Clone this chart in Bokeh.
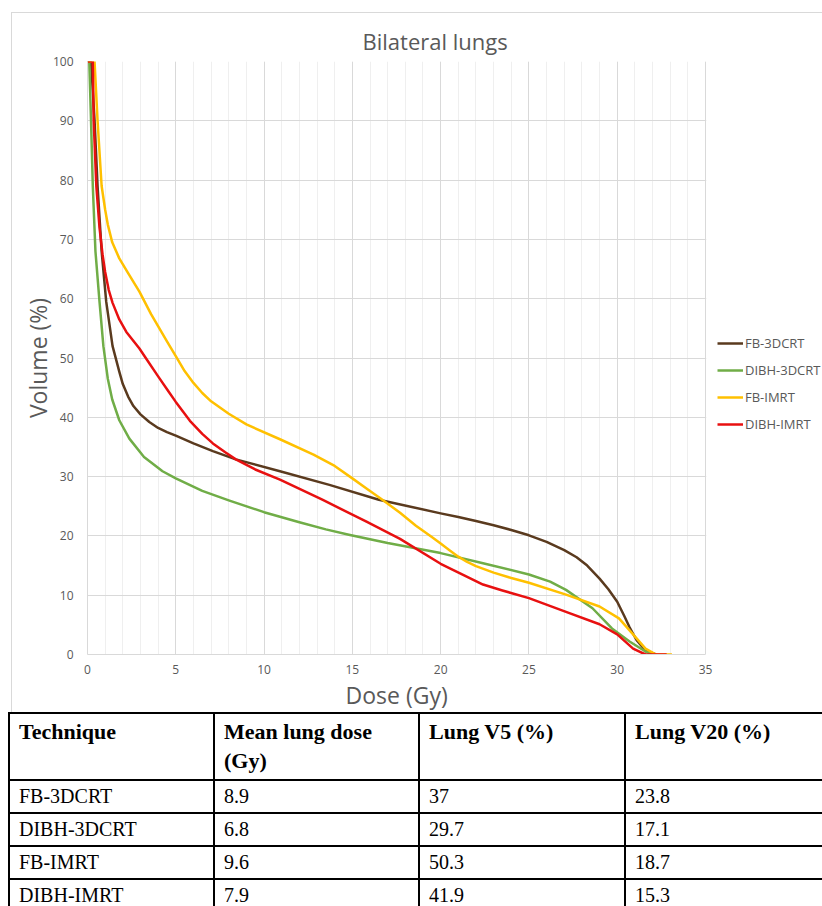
from bokeh.plotting import figure
from bokeh.models import (Range1d, SingleIntervalTicker, Legend, LegendItem, Div, Title, BoxAnnotation)
from bokeh.layouts import column
from bokeh.embed import file_html
from bokeh.resources import INLINE

# ---- DVH data (dose in Gy, volume in %) ----
fb3d_dose = [0, 0.2, 0.4, 0.57, 0.8, 1.06, 1.42, 1.8, 2.0, 2.3, 2.6, 3.0, 3.5, 4.0, 4.5, 5, 6, 7.1, 8.4, 10.9, 13.7, 16.5,
             20, 21, 22, 23, 24, 25, 26, 27, 27.7, 28.3, 29, 29.5, 30, 30.4, 30.7, 31.1, 31.6, 32.2]
fb3d_vol = [100, 100, 90, 79, 68, 59.5, 52, 47.7, 45.6, 43.5, 41.9, 40.5, 39.2, 38.2, 37.5, 36.9, 35.6, 34.3, 32.9, 30.9, 28.6, 26.1,
            23.8, 23.2, 22.5, 21.8, 21.0, 20.1, 19.0, 17.6, 16.4, 15.0, 12.8, 11.0, 8.9, 6.5, 4.6, 2.4, 0.7, 0]

dibh3d_dose = [0, 0.1, 0.2, 0.3, 0.45, 0.68, 0.9, 1.15, 1.4, 1.8, 2.37, 3.2, 4.25, 5, 6.5, 8, 10, 12, 13.5, 14.8, 17, 20,
               22.4, 25, 26.2, 27.1, 28.6, 29.7, 30.7, 31.6, 32]
dibh3d_vol = [100, 100, 90, 79, 68, 59.5, 52, 46.5, 43, 39.5, 36.4, 33.3, 30.9, 29.7, 27.6, 26, 24, 22.3, 21.1, 20.2, 18.8, 17.1,
              15.4, 13.5, 12.3, 10.9, 7.8, 4.4, 2.2, 0.5, 0]

fbim_dose = [0, 0.4, 0.57, 0.8, 1.0, 1.15, 1.4, 1.8, 2.3, 2.94, 3.6, 4.5, 5, 5.5, 6, 6.5, 7, 8, 9, 10.9, 12.8, 14, 15, 15.8,
             16.7, 17.7, 18.6, 19.5, 20, 20.5, 21, 21.5, 22, 23, 24, 25, 27.1, 29, 30.1, 30.9, 31.6, 32.2, 33.1]
fbim_vol = [100, 100, 90, 79, 75, 72.5, 69.5, 66.8, 64.3, 61.2, 57.4, 52.8, 50.3, 47.8, 45.8, 44.1, 42.7, 40.6, 38.8, 36.3, 33.7, 31.8, 29.7, 28,
            26.1, 23.9, 21.7, 19.8, 18.7, 17.6, 16.5, 15.6, 14.9, 13.8, 12.9, 12.1, 10.1, 8.1, 6.1, 3.4, 1, 0, 0]

dibhim_dose = [0, 0.3, 0.35, 0.5, 0.68, 0.85, 1.0, 1.2, 1.42, 1.8, 2.2, 2.94, 3.3, 4.0, 4.6, 5, 5.8, 6.5, 7.1, 7.8, 8.4, 9.5,
               10.9, 13.3, 15.8, 17.7, 20, 21.1, 22.4, 23.5, 25, 27.1, 29, 30, 30.9, 31.6, 32.8]
dibhim_vol = [100, 100, 90, 79, 72, 67.5, 64.5, 61.5, 59.3, 56.5, 54.4, 51.6, 50, 46.9, 44.3, 42.6, 39.4, 37.2, 35.6, 34.1, 32.9, 31.2,
              29.5, 26.1, 22.4, 19.5, 15.3, 13.7, 11.8, 10.8, 9.5, 7.2, 5.1, 3.4, 1, 0, 0]

series_names = ["FB-3DCRT", "DIBH-3DCRT", "FB-IMRT", "DIBH-IMRT"]
series_colors = ["#5a3a1e", "#70ad47", "#ffc000", "#e81010"]

# ---- axis limits ----
dose_min, dose_max = 0, 35
vol_min, vol_max = 0, 100

# ---- table data ----
table_header = ["Technique", "Mean lung dose (Gy)", "Lung V5 (%)", "Lung V20 (%)"]
techniques = ["FB-3DCRT", "DIBH-3DCRT", "FB-IMRT", "DIBH-IMRT"]
mean_lung_dose = ["8.9", "6.8", "9.6", "7.9"]
lung_v5 = ["37", "29.7", "50.3", "41.9"]
lung_v20 = ["23.8", "17.1", "18.7", "15.3"]

FONT = "Open Sans"
GREY = "#595959"

# frame extends past dose_max (to the right edge) so the legend can sit beside the plot area
FRAME_EXTRA = 736.0 / 618.0
p = figure(width=811, height=700, output_backend="svg", toolbar_location=None,
           x_range=Range1d(dose_min, dose_max * FRAME_EXTRA), y_range=Range1d(vol_min, vol_max),
           min_border_left=75, min_border_right=0, min_border_top=48, min_border_bottom=59)
p.margin = (12, 0, 0, 11)
p.styles = {"border-left": "1px solid #d9d9d9", "border-top": "1px solid #d9d9d9"}
p.outline_line_color = None
p.background_fill_color = "white"
p.border_fill_color = "white"

t = Title(text="Bilateral lungs", align="left", offset=275, text_font=FONT,
          text_font_size="22px", text_font_style="normal", text_color=GREY, standoff=12)
p.add_layout(t, "above")

xt = Title(text="Dose (Gy)", align="left", offset=258, text_font=FONT,
           text_font_size="23px", text_font_style="normal", text_color=GREY, standoff=0)
p.add_layout(xt, "below")

p.xaxis.ticker = SingleIntervalTicker(interval=5, num_minor_ticks=5)
p.yaxis.ticker = SingleIntervalTicker(interval=10, num_minor_ticks=0)
p.xaxis.bounds = (dose_min, dose_max)
for ax in (p.xaxis[0], p.yaxis[0]):
    ax.axis_line_color = "#d9d9d9"
    ax.major_tick_line_color = None
    ax.minor_tick_line_color = None
    ax.major_label_text_font = FONT
    ax.major_label_text_font_size = "12px"
    ax.major_label_text_color = GREY
    ax.axis_label_text_font = FONT
    ax.axis_label_text_font_size = "23px"
    ax.axis_label_text_font_style = "normal"
    ax.axis_label_text_color = GREY
p.yaxis.axis_label = "Volume (%)"
p.xaxis.major_label_standoff = 4
p.yaxis.major_label_standoff = 8
p.yaxis.axis_label_standoff = -4

p.xgrid.grid_line_color = "#d9d9d9"
p.xgrid.minor_grid_line_color = "#efefef"
p.xgrid.bounds = (dose_min, dose_max)
p.ygrid.grid_line_color = "#d9d9d9"

# white mask hiding horizontal grid lines to the right of the plot area
mask = BoxAnnotation(left=dose_max + 0.04, fill_color="white", fill_alpha=1.0,
                     line_alpha=0, level="underlay")
p.add_layout(mask)

data = [(fb3d_dose, fb3d_vol), (dibh3d_dose, dibh3d_vol), (fbim_dose, fbim_vol), (dibhim_dose, dibhim_vol)]
items = []
for (xs, ys), name, col in zip(data, series_names, series_colors):
    r = p.line(xs, ys, line_color=col, line_width=2.5, line_join="round")
    items.append(LegendItem(label=name, renderers=[r]))

legend = Legend(items=items, location=(630, 220), border_line_color=None,
                background_fill_alpha=0, padding=0, margin=0, spacing=7,
                label_height=20, glyph_height=20, glyph_width=26, label_standoff=2,
                label_text_font=FONT, label_text_font_size="13px", label_text_color=GREY)
p.add_layout(legend, "center")

# ---- table ----
cell = "border:2px solid #000; padding:4px 9px; text-align:left;"
rows_html = ""
for tech, mld, v5, v20 in zip(techniques, mean_lung_dose, lung_v5, lung_v20):
    rows_html += "<tr style='height:33px'>" + "".join(
        f"<td style='{cell} vertical-align:middle; padding-top:1px; padding-bottom:1px'>{v}</td>"
        for v in (tech, mld, v5, v20)) + "</tr>"
head_html = "<tr style='height:66px'>" + "".join(
    f"<th style='{cell} vertical-align:top; font-weight:bold; font-size:22px; padding-top:3px'>{h}</th>"
    for h in table_header) + "</tr>"
col_html = ("<colgroup><col style='width:205px'><col style='width:205px'>"
            "<col style='width:206px'><col style='width:206px'></colgroup>")
html = (f"<table style=\"border-collapse:collapse; table-layout:fixed; width:822px; "
        f"font-family:'Liberation Serif'; font-size:20px; line-height:29px; color:#000; margin-left:8px\">"
        f"{col_html}{head_html}{rows_html}</table>")
div = Div(text=html, width=822, height=194, margin=(0, 0, 0, 0), styles={"overflow": "hidden"})

layout = column(p, div, spacing=0)
open("out.html", "w").write(file_html(layout, INLINE))
